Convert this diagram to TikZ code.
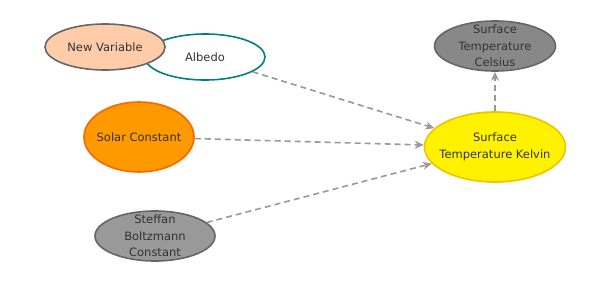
\documentclass[tikz,border=0pt]{standalone}
\usepackage{fontspec}
\setmainfont{DejaVu Sans}
\usepackage{tikz}
\usetikzlibrary{shapes.geometric, arrows.meta}

\definecolor{txtgray}{HTML}{333333}
\definecolor{linkgray}{HTML}{999999}
\definecolor{peach}{HTML}{FFCCAA}
\definecolor{tealline}{HTML}{008080}
\definecolor{orangefill}{HTML}{FF9900}
\definecolor{orangeline}{HTML}{FF6600}
\definecolor{grayfill}{HTML}{999999}
\definecolor{darkfill}{HTML}{888888}
\definecolor{grayline}{HTML}{666666}
\definecolor{goldline}{HTML}{F2C200}

\tikzset{
    var/.style={ellipse, draw, line width=1.6pt, inner xsep=-30pt, inner ysep=-25pt, align=center,
        text=txtgray, font=\fontsize{11.5}{16.5}\selectfont},
    link/.style={draw=linkgray, line width=1.6pt, dash pattern=on 6pt off 4pt,
        -{Stealth[length=9pt, width=8pt]}}
}

\begin{document}
\begin{tikzpicture}[x=1pt, y=-1pt]
            \useasboundingbox (0,0) rectangle (610,284);
            \node[var, draw=tealline, fill=white, minimum width=120pt, minimum height=46pt] (A) at (205,57) {Albedo};
            \node[var, draw=grayline, fill=peach, minimum width=120pt, minimum height=46pt] (N) at (105,47) {New Variable};
            \node[var, draw=orangeline, fill=orangefill, minimum width=110pt, minimum height=70pt] (S) at (139,137) {Solar Constant};
            \node[var, draw=grayline, fill=grayfill, minimum width=120pt, minimum height=50pt] (B) at (155,236) {Steffan\\Boltzmann\\Constant};
            \node[var, draw=goldline, fill=yellow, minimum width=141pt, minimum height=70pt] (K) at (495,147) {Surface\\Temperature Kelvin};
            \node[var, draw=grayline, fill=darkfill, minimum width=121pt, minimum height=50pt] (C) at (495,46) {Surface\\Temperature\\Celsius};
            \draw[link] (A) -- (K);
            \draw[link] (S) -- (K);
            \draw[link] (B) -- (K);
            \draw[link] (K) -- (C);
        \end{tikzpicture}
\end{document}
